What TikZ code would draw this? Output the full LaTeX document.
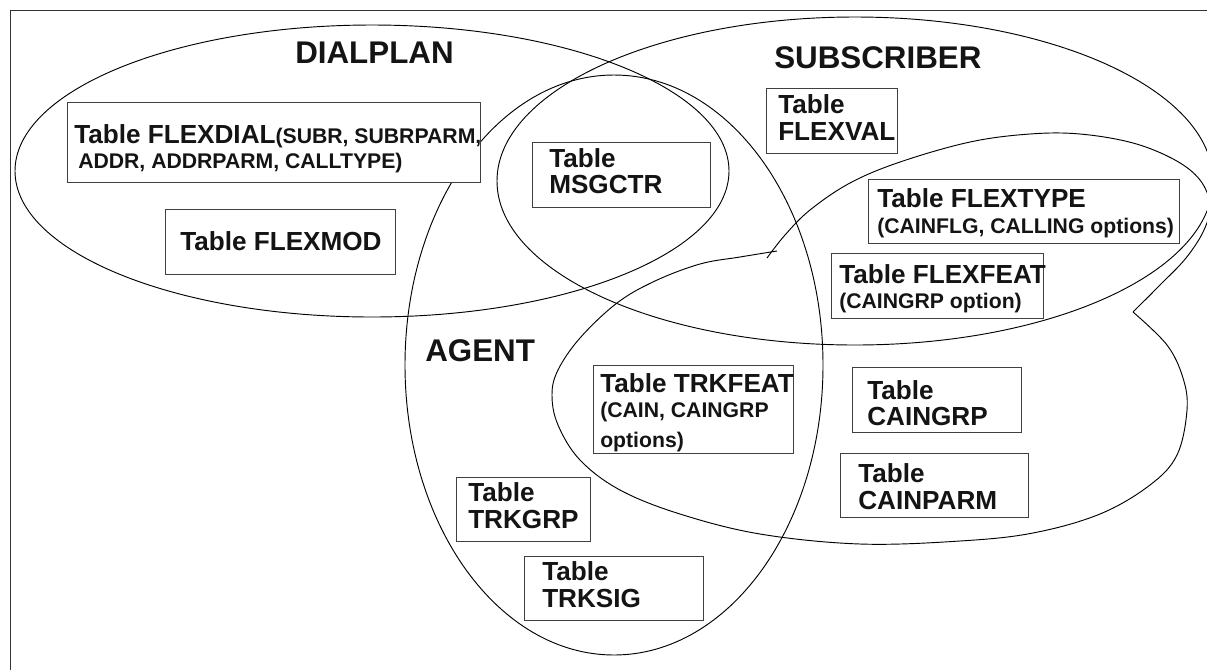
\documentclass[tikz,border=0pt]{standalone}
\usepackage{fontspec}
\setmainfont{Liberation Sans}
\begin{document}
\begin{tikzpicture}[x=0.75pt,y=-0.75pt,
  curve/.style={line width=0.7pt, black},
  tbox/.style={draw=black!75, line width=1pt, fill=white},
  big/.style={font=\fontsize{19.6}{23}\selectfont\bfseries, anchor=base west, inner sep=0pt, text=black!92},
  small/.style={font=\fontsize{15.9}{19}\selectfont\bfseries, anchor=base west, inner sep=0pt, text=black!92},
  title/.style={font=\fontsize{23.5}{28}\selectfont\bfseries, anchor=base west, inner sep=0pt, text=black!92}]
\useasboundingbox (0,0) rectangle (1207,669);
\clip (0,0) rectangle (1207,669);
\fill[white] (0,0) rectangle (1207,669);
% outer frame
\draw[line width=1.2pt, black!80] (10.5,10.5) rectangle (1240,700);

% the three domain ellipses
\draw[curve] (372,171) ellipse [x radius=267.75pt, y radius=109.5pt];   % DIALPLAN
\draw[curve] (855,181) ellipse [x radius=268.5pt, y radius=123pt];      % SUBSCRIBER
\draw[curve] (614,365) ellipse [x radius=156.75pt, y radius=217.5pt];   % AGENT

% freehand outline around the CAIN tables (lower branch, then upper branch)
\draw[curve] plot[smooth, tension=0.6] coordinates {
  (777,251) (740,257) (700,264) (655,281) (617,303) (580,338) (558,370)
  (552,395) (558,425) (580,460) (620,490) (680,514) (760,534) (860,544)
  (960,541) (1033,533) (1100,514) (1150,485) (1177,455) (1187,410)
  (1183,378) (1167,345) (1133,312)};
\draw[curve] plot[smooth, tension=0.6] coordinates {
  (1133,312) (1160,285) (1186,258) (1204,230) (1210,205) (1200,180)
  (1175,160) (1133,143) (1080,134) (1030,134) (970,142) (900,162)
  (850,183) (810,210) (785,235) (767,258)};

% table boxes
\node[tbox, minimum width=309.75pt, minimum height=60pt, anchor=north west, inner sep=0pt] (flexdialbox) at (67,102) {};
\node[tbox, minimum width=172.5pt, minimum height=48.75pt, anchor=north west, inner sep=0pt] (flexmodbox) at (165,209) {};
\node[tbox, minimum width=133.5pt, minimum height=48.75pt, anchor=north west, inner sep=0pt] (msgctrbox) at (532,142) {};
\node[tbox, minimum width=98.25pt, minimum height=48.75pt, anchor=north west, inner sep=0pt] (flexvalbox) at (766,88) {};
\node[tbox, minimum width=233.25pt, minimum height=48pt, anchor=north west, inner sep=0pt] (flextypebox) at (868,179) {};
\node[tbox, minimum width=159pt, minimum height=48.75pt, anchor=north west, inner sep=0pt] (flexfeatbox) at (831,253) {};
\node[tbox, minimum width=150pt, minimum height=66pt, anchor=north west, inner sep=0pt] (trkfeatbox) at (593,365) {};
\node[tbox, minimum width=100.5pt, minimum height=48pt, anchor=north west, inner sep=0pt] (trkgrpbox) at (456,477) {};
\node[tbox, minimum width=134.25pt, minimum height=48pt, anchor=north west, inner sep=0pt] (trksigbox) at (524,556) {};
\node[tbox, minimum width=126.75pt, minimum height=48.75pt, anchor=north west, inner sep=0pt] (caingrpbox) at (852,367) {};
\node[tbox, minimum width=141pt, minimum height=48pt, anchor=north west, inner sep=0pt] (cainparmbox) at (840,453) {};

% domain titles
\node[title] (dialplan) at (295,63) {DIALPLAN};
\node[title] (subscriber) at (774,68) {SUBSCRIBER};
\node[title] (agent) at (425,361) {AGENT};

% table texts
\node[big] (flexdial1) at (74,143) {Table FLEXDIAL{\fontsize{15.9}{19}\selectfont(SUBR, SUBRPARM,}};
\node[small] (flexdial2) at (78,168) {ADDR, ADDRPARM, CALLTYPE)};
\node[big] (flexmod) at (180,250) {Table FLEXMOD};
\node[big] (msgctr1) at (549,167) {Table};
\node[big] (msgctr2) at (549,193) {MSGCTR};
\node[big] (flexval1) at (778,113) {Table};
\node[big] (flexval2) at (778,140) {FLEXVAL};
\node[big] (flextype1) at (877,207) {Table FLEXTYPE};
\node[small] (flextype2) at (877,233) {(CAINFLG, CALLING options)};
\node[big] (flexfeat1) at (839,283) {Table FLEXFEAT};
\node[small] (flexfeat2) at (839,308) {(CAINGRP option)};
\node[big] (trkfeat1) at (600,392) {Table TRKFEAT};
\node[small] (trkfeat2) at (600,417) {(CAIN, CAINGRP};
\node[small] (trkfeat3) at (600,447) {options)};
\node[big] (trkgrp1) at (468,501) {Table};
\node[big] (trkgrp2) at (468,528) {TRKGRP};
\node[big] (trksig1) at (542,580) {Table};
\node[big] (trksig2) at (542,607) {TRKSIG};
\node[big] (caingrp1) at (867,399) {Table};
\node[big] (caingrp2) at (867,425) {CAINGRP};
\node[big] (cainparm1) at (858,482) {Table};
\node[big] (cainparm2) at (858,509) {CAINPARM};
\end{tikzpicture}
\end{document}
